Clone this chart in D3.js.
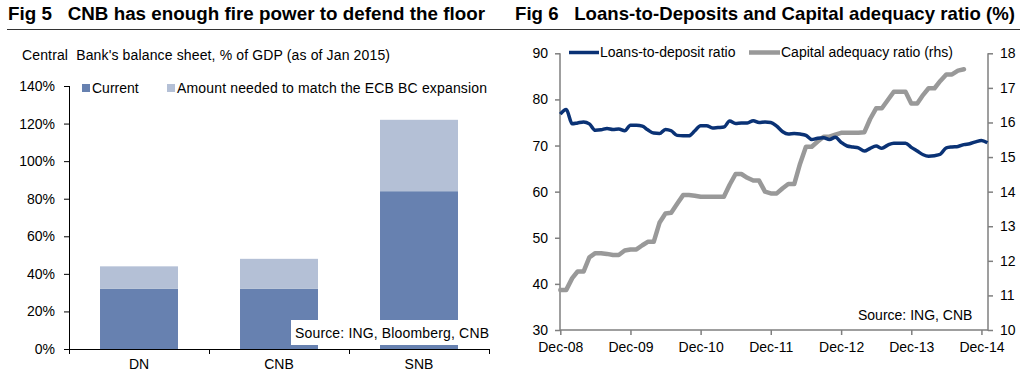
<!DOCTYPE html>
<html><head><meta charset="utf-8">
<script src="https://cdn.jsdelivr.net/npm/d3@7/dist/d3.min.js"></script>
<style>
body{margin:0;background:#fff;}
svg{display:block;}
text{font-family:"Liberation Sans",Arial,sans-serif;fill:#000;}
</style></head>
<body>
<svg id="c" width="1024" height="379"></svg>
<script>
// ---------- Fig 5 data ----------
const banks = ["DN", "CNB", "SNB"];
const currentPct = [32, 32, 84];
const neededPct = [12, 16, 38];
const leftTicks = [0, 20, 40, 60, 80, 100, 120, 140];

// ---------- Fig 6 data (monthly from Dec-08) ----------
const startMonth = "2008-12";
const loansToDeposit = [76.8,77.8,74.7,74.9,75.1,74.7,73.3,73.4,73.7,73.5,73.6,73.2,
  74.4,74.4,74.2,73.4,72.7,72.6,73.5,73.2,72.2,72.1,72.1,73.2,
  74.3,74.3,73.8,73.9,74.0,75.3,74.8,74.9,74.9,75.4,75.0,75.1,
  75.0,74.2,73.0,72.5,72.6,72.5,72.2,71.3,71.6,71.7,71.3,71.8,
  70.7,69.9,69.7,69.5,68.8,69.4,69.9,69.4,70.1,70.5,70.5,70.5,
  69.6,68.8,68.0,67.7,67.8,68.1,69.5,69.7,69.8,70.2,70.4,70.8,71.1,70.6];
const capitalAdequacy = [11.16,11.16,11.5,11.69,11.69,12.1,12.22,12.22,12.2,12.17,12.17,12.3,
  12.33,12.33,12.45,12.55,12.55,13.1,13.37,13.39,13.65,13.9,13.9,13.88,
  13.85,13.85,13.85,13.85,13.85,14.2,14.51,14.51,14.4,14.32,14.32,14.0,
  13.95,13.95,14.1,14.22,14.22,14.8,15.3,15.3,15.45,15.59,15.59,15.65,
  15.7,15.7,15.7,15.7,15.72,16.1,16.41,16.41,16.65,16.89,16.89,16.89,
  16.55,16.55,16.8,16.99,16.99,17.2,17.39,17.39,17.5,17.54];
const xTickLabels = ["Dec-08","Dec-09","Dec-10","Dec-11","Dec-12","Dec-13","Dec-14"];
const lhsTicks = [30,40,50,60,70,80,90];
const rhsTicks = [10,11,12,13,14,15,16,17,18];

const svg = d3.select("#c");
const barDark = "#6781b0", barLight = "#b4c0d6";
const navy = "#0a3275", grey = "#999999", axisGrey = "#7f7f7f";
const FS = 14;

// ---------- titles ----------
svg.append("line").attr("x1",7).attr("x2",1020).attr("y1",29.5).attr("y2",29.5)
  .attr("stroke","#333").attr("stroke-width",1);
svg.append("text").attr("x",8).attr("y",20).attr("font-size",18.8).attr("font-weight","bold")
  .attr("xml:space","preserve").attr("textLength",477).attr("lengthAdjust","spacing")
  .text("Fig 5   CNB has enough fire power to defend the floor");
svg.append("text").attr("x",515).attr("y",20).attr("font-size",18.6).attr("font-weight","bold")
  .attr("xml:space","preserve").attr("textLength",500).attr("lengthAdjust","spacing")
  .text("Fig 6   Loans-to-Deposits and Capital adequacy ratio (%)");

// ---------- Fig 5 ----------
svg.append("text").attr("x",22).attr("y",60).attr("font-size",14)
  .attr("xml:space","preserve").attr("textLength",368).attr("lengthAdjust","spacing")
  .text("Central  Bank's balance sheet, % of GDP (as of Jan 2015)");

const yL = d3.scaleLinear().domain([0,140]).range([349,86]);
const xL = d3.scaleBand().domain(banks).range([69,489]).paddingInner(0.443).paddingOuter(0.2215);

const gBars = svg.append("g");
banks.forEach((b,i)=>{
  gBars.append("rect").attr("x",xL(b)).attr("width",xL.bandwidth())
    .attr("y",yL(currentPct[i])).attr("height",yL(0)-yL(currentPct[i])).attr("fill",barDark);
  gBars.append("rect").attr("x",xL(b)).attr("width",xL.bandwidth())
    .attr("y",yL(currentPct[i]+neededPct[i])).attr("height",yL(currentPct[i])-yL(currentPct[i]+neededPct[i])).attr("fill",barLight);
});

const axL = svg.append("g").attr("transform","translate(69,0)")
  .call(d3.axisLeft(yL).tickValues(leftTicks).tickFormat(d=>d+"%").tickSize(5).tickSizeOuter(0));
axL.select(".domain").remove();
axL.selectAll("text").attr("font-size",FS).attr("x",-14).attr("font-family","Liberation Sans, Arial");
axL.selectAll("line").attr("stroke","#000");
svg.append("line").attr("x1",69.5).attr("x2",69.5).attr("y1",yL(140)).attr("y2",354).attr("stroke","#000");

const axB = svg.append("g").attr("transform","translate(0,349)")
  .call(d3.axisBottom(xL).tickSize(0).tickSizeOuter(0));
axB.select(".domain").remove();
axB.selectAll("text").attr("font-size",FS).attr("dy",0).attr("y",20).attr("font-family","Liberation Sans, Arial");
svg.append("line").attr("x1",64).attr("x2",489.5).attr("y1",349.5).attr("y2",349.5).attr("stroke","#000");
const step = xL.step();
banks.forEach(b=>{
  const bx = Math.round(xL(b)+xL.bandwidth()+step*xL.paddingInner()/2)+0.5;
  svg.append("line").attr("x1",bx).attr("x2",bx).attr("y1",349).attr("y2",354).attr("stroke","#000");
});

// legend
svg.append("rect").attr("x",82).attr("y",84).attr("width",8).attr("height",8).attr("fill",barDark);
svg.append("text").attr("x",92).attr("y",93).attr("font-size",14).text("Current");
svg.append("rect").attr("x",167).attr("y",84).attr("width",8).attr("height",8).attr("fill",barLight);
svg.append("text").attr("x",177).attr("y",93).attr("font-size",14)
  .attr("textLength",310).attr("lengthAdjust","spacing")
  .text("Amount needed to match the ECB BC expansion");

// source box
svg.append("rect").attr("x",291).attr("y",320).attr("width",199).attr("height",25).attr("fill","#fff");
svg.append("text").attr("x",295).attr("y",338).attr("font-size",14)
  .attr("textLength",194).attr("lengthAdjust","spacing").text("Source: ING, Bloomberg, CNB");

// ---------- Fig 6 ----------
const parse = d3.utcParse("%Y-%m");
const t0 = parse(startMonth);
const dates = loansToDeposit.map((_,i)=>d3.utcMonth.offset(t0,i));
const x = d3.scaleUtc().domain([t0, d3.utcMonth.offset(t0,73)]).range([560.3,987.4]);
const yA = d3.scaleLinear().domain([30,90]).range([330,53.3]);
const yB = d3.scaleLinear().domain([10,18]).range([330,53.3]);

const gx = svg.append("g").attr("transform","translate(0,330)")
  .call(d3.axisBottom(x).tickValues(xTickLabels.map((_,i)=>d3.utcMonth.offset(t0,12*i)))
    .tickFormat((d,i)=>xTickLabels[i]).tickSize(5).tickSizeOuter(0));
gx.select(".domain").remove();
gx.selectAll("line").attr("stroke",axisGrey).attr("stroke-width",1.5);
gx.selectAll("text").attr("font-size",FS).attr("y",12).attr("dy","0.71em").attr("font-family","Liberation Sans, Arial");
svg.append("line").attr("x1",560).attr("x2",988).attr("y1",330).attr("y2",330).attr("stroke",axisGrey).attr("stroke-width",1.5);

const gyA = svg.append("g").attr("transform","translate(560,0)")
  .call(d3.axisLeft(yA).tickValues(lhsTicks).tickSize(5).tickSizeOuter(0));
gyA.select(".domain").remove();
gyA.selectAll("line").attr("stroke",axisGrey).attr("stroke-width",1.5);
gyA.selectAll("text").attr("font-size",FS).attr("x",-12).attr("font-family","Liberation Sans, Arial");
svg.append("line").attr("x1",560).attr("x2",560).attr("y1",53.3).attr("y2",330.7).attr("stroke",axisGrey).attr("stroke-width",1.5);

const gyB = svg.append("g").attr("transform","translate(988,0)")
  .call(d3.axisRight(yB).tickValues(rhsTicks).tickSize(5).tickSizeOuter(0));
gyB.select(".domain").remove();
gyB.selectAll("line").attr("stroke",axisGrey).attr("stroke-width",1.5);
gyB.selectAll("text").attr("font-size",FS).attr("x",12).attr("font-family","Liberation Sans, Arial");
svg.append("line").attr("x1",988).attr("x2",988).attr("y1",53.3).attr("y2",330.7).attr("stroke",axisGrey).attr("stroke-width",1.5);

const lineA = d3.line().x((d,i)=>x(dates[i])).y(d=>yA(d)).curve(d3.curveMonotoneX);
const lineB = d3.line().x((d,i)=>x(dates[i])).y(d=>yB(d));
svg.append("path").datum(capitalAdequacy).attr("d",lineB).attr("fill","none")
  .attr("stroke",grey).attr("stroke-width",4.5).attr("stroke-linejoin","round").attr("stroke-linecap","round");
svg.append("path").datum(loansToDeposit).attr("d",lineA).attr("fill","none")
  .attr("stroke",navy).attr("stroke-width",3.5).attr("stroke-linejoin","round");

// legend
svg.append("line").attr("x1",569).attr("x2",599).attr("y1",52.5).attr("y2",52.5).attr("stroke",navy).attr("stroke-width",3.5);
svg.append("text").attr("x",600).attr("y",57).attr("font-size",FS).text("Loans-to-deposit ratio");
svg.append("line").attr("x1",749).attr("x2",780).attr("y1",52.5).attr("y2",52.5).attr("stroke",grey).attr("stroke-width",4.5);
svg.append("text").attr("x",781).attr("y",57).attr("font-size",FS).text("Capital adequacy ratio (rhs)");

svg.append("text").attr("x",858).attr("y",320).attr("font-size",FS).text("Source: ING, CNB");
</script>
</body></html>
